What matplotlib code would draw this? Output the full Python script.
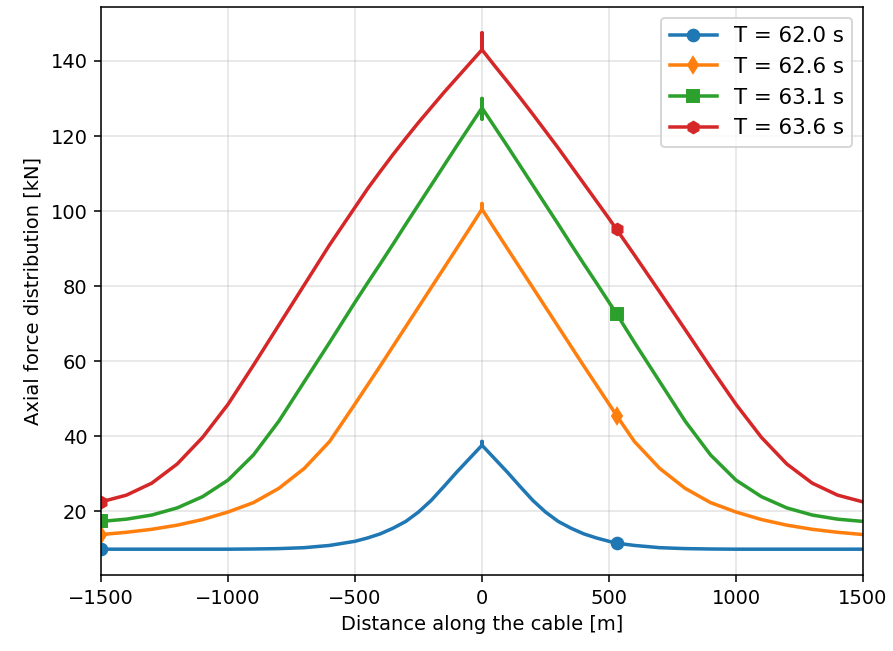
import numpy as np
import matplotlib
matplotlib.use("Agg")
import matplotlib.pyplot as plt

# Positions along the cable [m]; x = 0 repeats to capture the jump at the fairlead
distance = [-1500, -1400, -1300, -1200, -1100, -1000, -900, -800, -700, -600,
            -500, -450, -400, -350, -300, -250, -200, -150, -100, -50,
            0, 0, 0, 0,
            50, 100, 150, 200, 250, 300, 350, 400, 450, 500, 530,
            600, 700, 800, 900, 1000, 1100, 1200, 1300, 1400, 1500]

# Axial force [kN] for each time instant
force_62_0 = [9.9, 9.9, 9.9, 9.9, 9.9, 9.9, 9.95, 10.05, 10.3, 10.9,
              12.0, 12.9, 14.0, 15.5, 17.3, 19.8, 22.9, 26.6, 30.4, 34.0,
              37.6, 38.6, 37.6, 37.6,
              34.0, 30.4, 26.6, 22.9, 19.8, 17.3, 15.5, 14.0, 12.9, 12.0, 11.5,
              10.9, 10.3, 10.05, 9.95, 9.9, 9.9, 9.9, 9.9, 9.9, 9.9]
force_62_6 = [13.8, 14.4, 15.2, 16.3, 17.8, 19.8, 22.3, 26.1, 31.4, 38.6,
              48.6, 53.7, 58.8, 64.0, 69.2, 74.4, 79.6, 84.8, 90.0, 95.2,
              100.5, 102.0, 100.5, 100.5,
              95.2, 90.0, 84.8, 79.6, 74.4, 69.2, 64.0, 58.8, 53.7, 48.6, 45.5,
              38.6, 31.4, 26.1, 22.3, 19.8, 17.8, 16.3, 15.2, 14.4, 13.8]
force_63_1 = [17.3, 17.9, 19.0, 20.9, 23.9, 28.3, 35.0, 44.0, 54.5, 65.0,
              75.7, 80.9, 86.0, 91.2, 96.5, 101.7, 106.9, 112.1, 117.3, 122.4,
              127.5, 130.0, 124.5, 127.5,
              122.4, 117.3, 112.1, 106.9, 101.7, 96.5, 91.2, 86.0, 80.9, 75.7, 72.6,
              65.0, 54.5, 44.0, 35.0, 28.3, 23.9, 20.9, 19.0, 17.9, 17.3]
force_63_6 = [22.5, 24.3, 27.5, 32.6, 39.7, 48.5, 58.9, 69.6, 80.3, 91.0,
              101.0, 106.0, 110.6, 115.1, 119.4, 123.6, 127.6, 131.6, 135.4, 139.2,
              143.0, 147.5, 143.0, 143.0,
              138.7, 134.5, 130.2, 125.8, 121.3, 116.8, 112.1, 107.4, 102.7, 98.0, 95.1,
              88.3, 78.4, 68.4, 58.3, 48.5, 39.7, 32.6, 27.5, 24.3, 22.5]

labels = ["T = 62.0 s", "T = 62.6 s", "T = 63.1 s", "T = 63.6 s"]
series = [force_62_0, force_62_6, force_63_1, force_63_6]
markers = ["o", "d", "s", "h"]

x = np.array(distance, dtype=float)
mark_idx = [0, int(np.where(x == 530)[0][0])]

fig = plt.figure(figsize=(893 / 140, 651 / 140), dpi=140)
ax = fig.add_axes([101 / 893, 1 - 575 / 651, (863 - 101) / 893, (575 - 7) / 651])

for y, lab, m in zip(series, labels, markers):
    ax.plot(x, y, marker=m, markevery=mark_idx, label=lab, lw=1.8,
            solid_joinstyle="round")

ax.set_xlim(-1500, 1500)
ax.set_xlabel("Distance along the cable [m]")
ax.set_ylabel("Axial force distribution [kN]")
ax.grid(True, alpha=0.35)
ax.legend(loc="upper right", fontsize=11, handlelength=2.2)

fig.savefig("out.png", dpi=140)
